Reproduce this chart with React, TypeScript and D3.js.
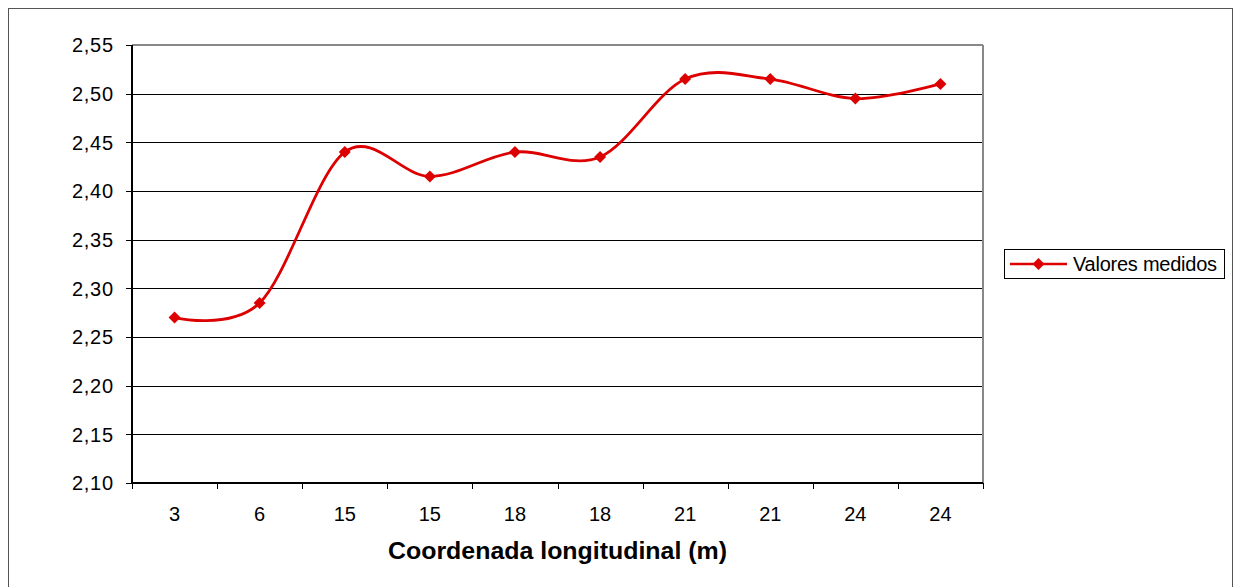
import React from "react";
import * as d3 from "d3";

const categories = ["3", "6", "15", "15", "18", "18", "21", "21", "24", "24"];
const values = [2.27, 2.285, 2.44, 2.415, 2.44, 2.435, 2.515, 2.515, 2.495, 2.51];
const yTicks = [2.1, 2.15, 2.2, 2.25, 2.3, 2.35, 2.4, 2.45, 2.5, 2.55];
const seriesName = "Valores medidos";
const xTitle = "Coordenada longitudinal (m)";

export default function App() {
  const W = 1234, H = 587;
  const left = 132, right = 983, top = 45, bottom = 483;
  const x = d3.scaleBand<number>().domain(d3.range(categories.length)).range([left, right]);
  const y = d3.scaleLinear().domain([2.1, 2.55]).range([bottom, top]);
  const cx = (i: number) => (x(i) as number) + x.bandwidth() / 2;
  const line = d3.line<number>().x((_, i) => cx(i)).y((d) => y(d)).curve(d3.curveCatmullRom.alpha(0));
  const red = "#DD0000";
  const font = "'Liberation Sans', Arial, sans-serif";
  const diamond = (px: number, py: number, r = 6) => `M${px},${py - r}L${px + r},${py}L${px},${py + r}L${px - r},${py}Z`;
  return (
    <svg width={W} height={H} style={{ position: "absolute", left: 0, top: 0 }} fontFamily={font}>
      <rect x={0} y={0} width={W} height={H} fill="#fff" />
      <rect x={8.5} y={8.5} width={1224} height={590} fill="none" stroke="#555" strokeWidth={1} />
      {yTicks.map((t) => (
        <g key={t}>
          <line x1={left - 6} x2={right} y1={Math.round(y(t)) + 0.5} y2={Math.round(y(t)) + 0.5} stroke="#000" strokeWidth={1} />
          <text x={113} y={y(t)} dy="0.36em" textAnchor="end" fontSize={20} fill="#000" textLength={41} lengthAdjust="spacing">
            {t.toFixed(2).replace(".", ",")}
          </text>
        </g>
      ))}
      <line x1={left} x2={right} y1={top} y2={top} stroke="#888" strokeWidth={2} />
      <line x1={right} x2={right} y1={top} y2={bottom} stroke="#888" strokeWidth={2} />
      <line x1={left} x2={left} y1={top} y2={bottom + 1} stroke="#000" strokeWidth={2} />
      <line x1={left} x2={right} y1={bottom} y2={bottom} stroke="#000" strokeWidth={2} />
      {d3.range(categories.length + 1).map((i) => {
        const px = Math.round(i < categories.length ? (x(i) as number) : right) + 0.5;
        return <line key={i} x1={px} x2={px} y1={bottom} y2={bottom + 6} stroke="#000" strokeWidth={1} />;
      })}
      {categories.map((c, i) => (
        <text key={i} x={cx(i)} y={514} dy="0.36em" textAnchor="middle" fontSize={20} fill="#000">
          {c}
        </text>
      ))}
      <text x={557.5} y={559} textAnchor="middle" fontSize={24} fontWeight="bold" fill="#000" textLength={339} lengthAdjust="spacingAndGlyphs">
        {xTitle}
      </text>
      <path d={line(values) || ""} fill="none" stroke={red} strokeWidth={2.8} />
      {values.map((v, i) => (
        <path key={i} d={diamond(cx(i), y(v))} fill={red} />
      ))}
      <rect x={1004.5} y={249.5} width={220} height={29} fill="#fff" stroke="#000" strokeWidth={1} />
      <line x1={1010} x2={1067} y1={264} y2={264} stroke={red} strokeWidth={2.5} />
      <path d={diamond(1038.5, 264)} fill={red} />
      <text x={1073} y={264} dy="0.36em" fontSize={20} fill="#000" textLength={144} lengthAdjust="spacing">
        {seriesName}
      </text>
    </svg>
  );
}
